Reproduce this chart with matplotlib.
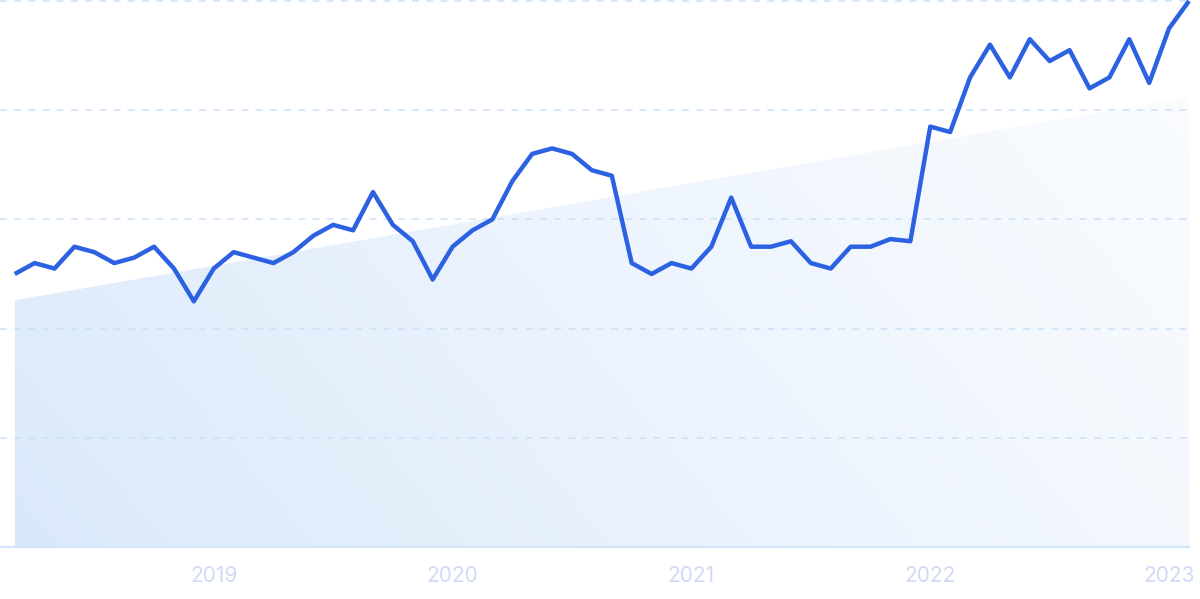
#!/usr/bin/env python3
"""Monthly search interest line with a shaded linear trend area."""

import numpy as np
import matplotlib
matplotlib.use('Agg')
import matplotlib.pyplot as plt
from matplotlib.colors import LinearSegmentedColormap

# Data: monthly values, Mar 2018 - Feb 2023 (0-100 scale)
values = [50, 52, 51, 55, 54, 52, 53, 55, 51, 45,
          51, 54, 53, 52, 54, 57, 59, 58, 65, 59,
          56, 49, 55, 58, 60, 67, 72, 73, 72, 69,
          68, 52, 50, 52, 51, 55, 64, 55, 55, 56,
          52, 51, 55, 55, 56.4, 56, 77, 76, 86, 92,
          86, 93, 89, 91, 84, 86, 93, 85, 95, 100]
trend_ends = [45.2, 82.4]          # trend line at first and last month
tick_index = [10, 22, 34, 46, 58]  # January of each year
tick_labels = ['2019', '2020', '2021', '2022', '2023']
grid_levels = [20, 40, 60, 80, 100]

LINE_COLOR = '#2c62e2'
GRID_COLOR = '#cbe1f8'
AXIS_COLOR = '#d3e6fa'
TEXT_COLOR = '#d0d9f5'

x = np.arange(len(values))
trend = np.linspace(trend_ends[0], trend_ends[1], len(values))

fig = plt.figure(figsize=(12, 5.99), dpi=100)
ax = fig.add_axes([0, 52 / 599, 1189 / 1200, 546 / 599])

# Trend area with a diagonal gradient
poly = ax.fill_between(x, 0, trend, color='none', lw=0)
gx, gy = np.meshgrid(np.linspace(0, 1, 300), np.linspace(0, 1, 150))
grad = 0.72 * gx + 0.28 * (1 - gy)
cmap = LinearSegmentedColormap.from_list('trend', ['#dae9fa', '#edf4fd', '#fbfdff'])
img = ax.imshow(grad, cmap=cmap, extent=[x[0], x[-1], 0, 100], origin='upper',
                aspect='auto', zorder=1, vmin=0, vmax=1)
img.set_clip_path(poly.get_paths()[0], transform=ax.transData)
ax.set_xlim(-0.74, len(values) - 1)
ax.set_ylim(0, 100)

# Dashed grid and baseline
for level in grid_levels:
    ax.axhline(level, color=GRID_COLOR, lw=1.1, linestyle=(0, (4.5, 4.8)),
               zorder=2, clip_on=False)
ax.axhline(0, color=AXIS_COLOR, lw=1.6, zorder=2, clip_on=False)

# Main series
ax.plot(x, values, color=LINE_COLOR, lw=3.2, zorder=3, clip_on=False,
        solid_joinstyle='round', solid_capstyle='butt')

for spine in ax.spines.values():
    spine.set_visible(False)
ax.set_yticks([])
ax.set_xticks(tick_index)
ax.set_xticklabels(tick_labels, fontfamily='Inter', fontsize=15, color=TEXT_COLOR)
ax.tick_params(axis='x', length=0, pad=14)
ax.patch.set_alpha(0)

fig.savefig('out.png', dpi=100)
